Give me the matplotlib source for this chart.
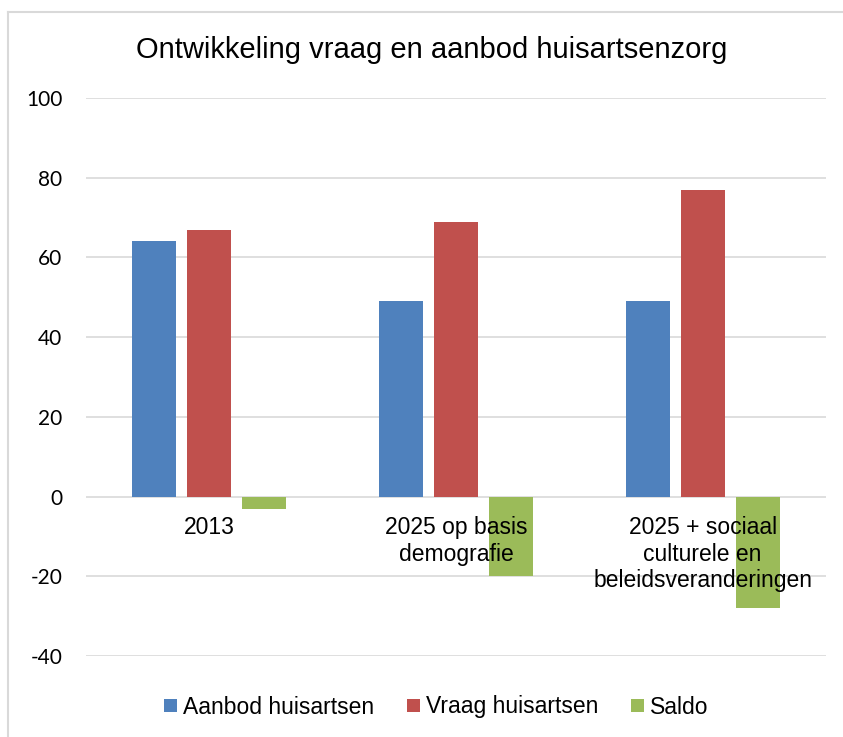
import matplotlib.pyplot as plt
import numpy as np
from matplotlib.lines import Line2D

plt.rcParams['axes.unicode_minus'] = False

# data
categories = ['2013', '2025 op basis\ndemografie',
              '2025 + sociaal\nculturele en\nbeleidsveranderingen']
aanbod = [64, 49, 49]
vraag = [67, 69, 77]
saldo = [-3, -20, -28]
series_names = ['Aanbod huisartsen', 'Vraag huisartsen', 'Saldo']
colors = ['#4F81BD', '#C0504D', '#9BBB59']
yticks = [-40, -20, 0, 20, 40, 60, 80, 100]

W, H = 843, 737
fig = plt.figure(figsize=(W / 100, H / 100), dpi=100)
ax = fig.add_axes([86 / W, 1 - 656 / H, (826 - 86) / W, (656 - 98) / H])

x = np.arange(len(categories))
step = 0.223
width = 0.178
for i, (vals, name, c) in enumerate(zip([aanbod, vraag, saldo], series_names, colors)):
    ax.bar(x + (i - 1) * step, vals, width, color=c, label=name, zorder=2)

ax.set_xlim(-0.5, 2.5)
ax.set_ylim(-40, 100)
ax.set_yticks(yticks)
ax.grid(axis='y', color='#d9d9d9', linewidth=1.2)
ax.yaxis.set_zorder(0.5)
ax.xaxis.set_zorder(3)  # category labels on top of the green bars
for s in ax.spines.values():
    s.set_visible(False)
ax.spines['bottom'].set_position(('data', 0))

ax.set_xticks(x)
ax.set_xticklabels(categories, fontsize=16.5, family='Liberation Sans')
ax.tick_params(axis='x', length=0, pad=14)
ax.tick_params(axis='y', length=0, pad=17)
for lab in ax.get_yticklabels():
    lab.set_family('Lato')
    lab.set_fontsize(15)

fig.text(432 / W, 1 - 50 / H, 'Ontwikkeling vraag en aanbod huisartsenzorg',
         ha='center', va='center', fontsize=21, family='Liberation Sans')

# chart border
fig.add_artist(Line2D([8 / W, 8 / W], [0, 1 - 12 / H], transform=fig.transFigure,
                      color='#d9d9d9', linewidth=1.5))
fig.add_artist(Line2D([8 / W, 1], [1 - 12 / H, 1 - 12 / H], transform=fig.transFigure,
                      color='#d9d9d9', linewidth=1.5))

handles, labels = ax.get_legend_handles_labels()
fig.legend(handles, labels, loc='center', bbox_to_anchor=(436 / W, 1 - 707 / H),
           ncol=3, frameon=False, prop={'family': 'Liberation Sans', 'size': 16.5},
           handlelength=0.57, handleheight=0.52, handletextpad=0.26,
           columnspacing=1.43, borderpad=0)

fig.savefig('out.png', dpi=100)
